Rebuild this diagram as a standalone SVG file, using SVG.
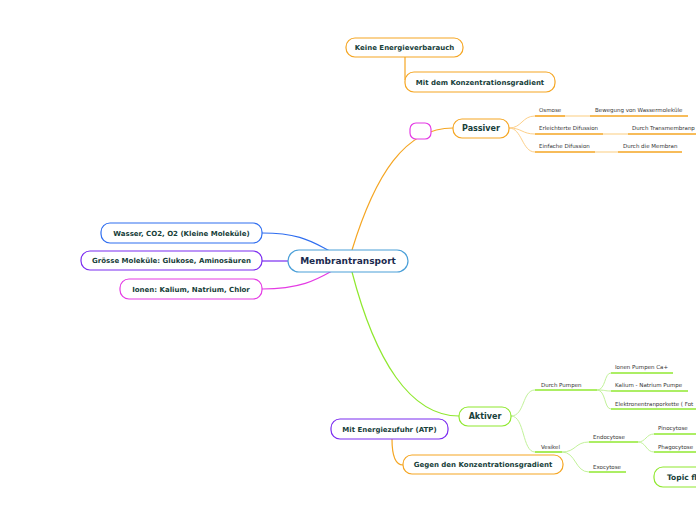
<svg xmlns="http://www.w3.org/2000/svg" width="696" height="520" viewBox="0 0 696 520">
<style>
.n{fill:#fff;stroke-width:1.2}
.t{font-family:"DejaVu Sans",Verdana,sans-serif;font-weight:bold;font-size:7px;fill:#17403a;text-anchor:middle}
.l{font-family:"DejaVu Sans",Verdana,sans-serif;font-size:5.5px;fill:#333}
.c{fill:none;stroke-width:1.2}
.uo{stroke:#f5a623;stroke-width:1.6;fill:none}
.ul{stroke:#fde0b0;stroke-width:1.6;fill:none}
.ug{stroke:#90e830;stroke-width:1.6;fill:none}
.bo{stroke:#fdd08a;stroke-width:1;fill:none}
.bg{stroke:#c2f29a;stroke-width:1;fill:none}
.or{stroke:#f5a623}.gr{stroke:#8fe82e}.pu{stroke:#7b2cf0}.bl{stroke:#2f6ef0}.ma{stroke:#e43be4}
</style>
<rect width="696" height="520" fill="#fff"/>
<g id="connectors">
<path class="c bl" d="M262,233 C300,233 312,242 330,251"/>
<path class="c pu" d="M262,261 L288,261"/>
<path class="c ma" d="M262,289 C300,289 316,280 332,271"/>
<path class="c or" d="M352,250 C375,175 405,128 453,128"/>
<path class="c gr" d="M352,272 C375,360 410,416 459,416"/>
<path class="c or" d="M405,57 L405,80"/>
<path class="c or" d="M392,439 C392,456 395,465 403,465"/>
<path class="bo" d="M509,128 C522,128 522,116 535,116"/>
<path class="bo" d="M509,128 C522,128 522,134 535,134"/>
<path class="bo" d="M509,128 C522,128 522,152 535,152"/>
<path class="bg" d="M511,416 C525,416 522,390 535,390"/>
<path class="bg" d="M511,416 C525,416 522,452 535,452"/>
<path class="bg" d="M597,390 C606,390 604,373 611,373"/>
<path class="bg" d="M597,390 C606,390 604,391 611,391"/>
<path class="bg" d="M597,390 C606,390 604,409 611,409"/>
<path class="bg" d="M562,452 C576,452 575,442 589,442"/>
<path class="bg" d="M562,452 C576,452 575,472 589,472"/>
<path class="bg" d="M638,442 C646,442 646,434 654,434"/>
<path class="bg" d="M638,442 C646,442 646,452 654,452"/>
</g>
<g id="center"><rect class="n" x="288" y="250" width="120" height="22" rx="11" stroke="#4a9fd8"/><text class="t" x="348" y="264.2" style="font-size:9px;fill:#1b2a4e">Membrantransport</text></g>
<g id="wasser"><rect class="n bl" x="101" y="223" width="161" height="20" rx="9"/><text class="t" x="181.5" y="235.5">Wasser, CO2, O2 (Kleine Moleküle)</text></g>
<g id="groesse"><rect class="n pu" x="81" y="251" width="181" height="19" rx="9"/><text class="t" x="171.5" y="263">Grösse Moleküle: Glukose, Aminosäuren</text></g>
<g id="ionen"><rect class="n ma" x="120" y="279" width="142" height="20" rx="9"/><text class="t" x="191" y="291.5">Ionen: Kalium, Natrium, Chlor</text></g>
<g id="keine"><rect class="n or" x="346" y="38" width="117" height="19" rx="9"/><text class="t" x="404.5" y="50">Keine Energieverbarauch</text></g>
<g id="mitdem"><rect class="n or" x="405" y="72" width="150" height="20" rx="9"/><text class="t" x="480" y="84.5">Mit dem Konzentrationsgradient</text></g>
<g id="empty"><rect class="n ma" x="410" y="123" width="21" height="16" rx="6"/></g>
<g id="passiver"><rect class="n or" x="453" y="119" width="56" height="19" rx="9"/><text class="t" x="481" y="131" style="font-size:8px">Passiver</text></g>
<g id="osmose"><path class="uo" d="M535,116 L565,116"/><path class="ul" d="M565,116 L590,116"/><text class="l" x="539" y="112">Osmose</text></g>
<g id="bewegung"><path class="uo" d="M590,116 L688,116"/><text class="l" x="595" y="112">Bewegung von Wassermoleküle</text></g>
<g id="erleichterte"><path class="uo" d="M535,134 L603,134"/><path class="ul" d="M603,134 L628,134"/><text class="l" x="539" y="130">Erleichterte Difussion</text></g>
<g id="transmembran"><path class="uo" d="M628,134 L696,134"/><text class="l" x="632" y="130">Durch Transmembranp</text></g>
<g id="einfache"><path class="uo" d="M535,152 L595,152"/><path class="ul" d="M595,152 L618,152"/><text class="l" x="539" y="148">Einfache Difussion</text></g>
<g id="membran"><path class="uo" d="M618,152 L682,152"/><text class="l" x="623" y="148">Durch die Membran</text></g>
<g id="aktiver"><rect class="n gr" x="459" y="407" width="52" height="19" rx="9"/><text class="t" x="485" y="419" style="font-size:8px">Aktiver</text></g>
<g id="pumpen"><path class="ug" d="M535,390 L597,390"/><text class="l" x="541" y="386.5">Durch Pumpen</text></g>
<g id="ionenpumpen"><path class="ug" d="M611,373 L673,373"/><text class="l" x="615" y="369">Ionen Pumpen Ca+</text></g>
<g id="kalium"><path class="ug" d="M611,391 L688,391"/><text class="l" x="615" y="387">Kalium - Natrium Pumpe</text></g>
<g id="elektronen"><path class="ug" d="M611,409 L696,409"/><text class="l" x="615" y="405.5">Elektronentranporkette  ( Fot</text></g>
<g id="vesikel"><path class="ug" d="M535,452 L562,452"/><text class="l" x="541" y="448.5">Vesikel</text></g>
<g id="endocytose"><path class="ug" d="M589,442 L638,442"/><text class="l" x="593" y="438.5">Endocytose</text></g>
<g id="pinocytose"><path class="ug" d="M654,434 L696,434"/><text class="l" x="658" y="430">Pinocytose</text></g>
<g id="phagocytose"><path class="ug" d="M654,452 L696,452"/><text class="l" x="658" y="448.5">Phagocytose</text></g>
<g id="exocytose"><path class="ug" d="M589,472 L626,472"/><text class="l" x="593" y="468.5">Exocytose</text></g>
<g id="energiezufuhr"><rect class="n pu" x="331" y="419" width="117" height="20" rx="9"/><text class="t" x="389.5" y="431.5">Mit Energiezufuhr (ATP)</text></g>
<g id="gegen"><rect class="n or" x="403" y="455" width="160" height="19" rx="9"/><text class="t" x="483" y="467">Gegen den Konzentrationsgradient</text></g>
<g id="topic"><rect class="n gr" x="654" y="467" width="80" height="20" rx="9"/><text class="t" x="667" y="480" style="text-anchor:start;font-size:7.5px">Topic fl</text></g>
</svg>
